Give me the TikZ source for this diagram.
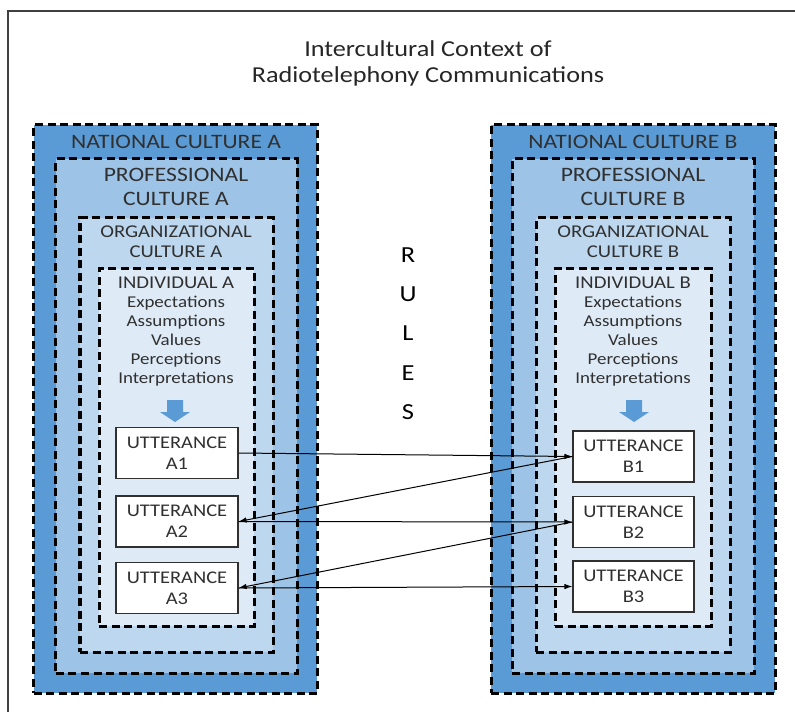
\documentclass[tikz,border=0pt]{standalone}
\usepackage{fontspec}
\setmainfont{Carlito}[FakeStretch=1.15]
\usetikzlibrary{arrows.meta}
\definecolor{natblue}{HTML}{5B9BD5}
\definecolor{profblue}{HTML}{9DC3E6}
\definecolor{orgblue}{HTML}{BDD7EE}
\definecolor{indblue}{HTML}{DEEBF7}
\definecolor{txt}{HTML}{303030}
\definecolor{frame}{HTML}{404040}
\tikzset{
  layer/.style={draw=black, line width=3bp, dash pattern=on 8bp off 4.5bp, inner sep=0pt, outer sep=0pt},
  natbox/.style={layer, fill=natblue},
  profbox/.style={layer, fill=profblue},
  orgbox/.style={layer, fill=orgblue},
  indbox/.style={layer, fill=indblue},
  utt/.style={draw=txt, line width=1.1bp, fill=white, minimum width=122bp, minimum height=51bp, inner sep=0pt, align=center, text=txt, font=\fontsize{17.8bp}{21bp}\selectfont},
  lbl/.style={align=center, text=txt, inner sep=0pt},
  conn/.style={line width=1bp, black, -{Latex[length=8bp,width=5.5bp]}},
  blockarrow/.style={fill=natblue, draw=none},
  ruleletter/.style={text=black, font=\fontsize{23bp}{23bp}\selectfont, inner sep=0pt}
}
\begin{document}
\begin{tikzpicture}[x=1bp,y=-1bp]
\useasboundingbox (0,0) rectangle (795,712);
% outer frame (cut at right and bottom)
\draw[frame, line width=1.6bp] (8,712) -- (8,11) -- (795,11);
% title
\node[lbl, text=black!85, font=\fontsize{22.8bp}{26bp}\selectfont] (title) at (428,63) {Intercultural Context of\\Radiotelephony Communications};

% side A
\node[natbox, minimum width=283bp, minimum height=568bp] (natA) at (175.5,409) {};
\node[profbox, minimum width=241bp, minimum height=514bp] (profA) at (176.5,416) {};
\node[orgbox, minimum width=193bp, minimum height=434bp] (orgA) at (176.5,435) {};
\node[indbox, minimum width=155bp, minimum height=357bp] (indA) at (176.5,447.5) {};
\node[lbl, font=\fontsize{20.5bp}{24bp}\selectfont] (natAl) at (176,142) {NATIONAL CULTURE A};
\node[lbl, font=\fontsize{20.5bp}{24bp}\selectfont] (profAl) at (176,187) {PROFESSIONAL\\CULTURE A};
\node[lbl, font=\fontsize{18bp}{20bp}\selectfont] (orgAl) at (176,242) {ORGANIZATIONAL\\CULTURE A};
\node[lbl, font=\fontsize{16.5bp}{19bp}\selectfont] (indAl) at (176,331.5) {{\fontsize{18bp}{19bp}\selectfont INDIVIDUAL A}\\Expectations\\Assumptions\\Values\\Perceptions\\Interpretations};
\fill[blockarrow] (167,400) -- (183,400) -- (183,412) -- (190,412) -- (175,422) -- (160,412) -- (167,412) -- cycle;
\node[utt] (A1) at (177,453) {UTTERANCE\\A1};
\node[utt] (A2) at (177,521.5) {UTTERANCE\\A2};
\node[utt] (A3) at (177,588) {UTTERANCE\\A3};

% side B
\node[natbox, minimum width=284bp, minimum height=568bp] (natB) at (633,409) {};
\node[profbox, minimum width=242bp, minimum height=514bp] (profB) at (633,416) {};
\node[orgbox, minimum width=194bp, minimum height=434bp] (orgB) at (633,435) {};
\node[indbox, minimum width=156bp, minimum height=357bp] (indB) at (633,447.5) {};
\node[lbl, font=\fontsize{20.5bp}{24bp}\selectfont] (natBl) at (633,142) {NATIONAL CULTURE B};
\node[lbl, font=\fontsize{20.5bp}{24bp}\selectfont] (profBl) at (633,187) {PROFESSIONAL\\CULTURE B};
\node[lbl, font=\fontsize{18bp}{20bp}\selectfont] (orgBl) at (633,242) {ORGANIZATIONAL\\CULTURE B};
\node[lbl, font=\fontsize{16.5bp}{19bp}\selectfont] (indBl) at (633,331.5) {{\fontsize{18bp}{19bp}\selectfont INDIVIDUAL B}\\Expectations\\Assumptions\\Values\\Perceptions\\Interpretations};
\fill[blockarrow] (626,400) -- (642,400) -- (642,412) -- (649,412) -- (634,422) -- (619,412) -- (626,412) -- cycle;
\node[utt, minimum width=121bp] (B1) at (633.5,456.5) {UTTERANCE\\B1};
\node[utt, minimum width=121bp] (B2) at (633.5,522) {UTTERANCE\\B2};
\node[utt, minimum width=121bp] (B3) at (633.5,586.5) {UTTERANCE\\B3};

% rules
\node[ruleletter] (R1) at (408,255) {R};
\node[ruleletter] (R2) at (408,294) {U};
\node[ruleletter] (R3) at (408,333) {L};
\node[ruleletter] (R4) at (408,373) {E};
\node[ruleletter] (R5) at (408,412) {S};

% connectors
\draw[conn] (A1.east) -- (B1.west);
\draw[conn] (B1.west) -- (A2.east);
\draw[conn] (A2.east) -- (B2.west);
\draw[conn] (B2.west) -- (A3.east);
\draw[conn] (A3.east) -- (B3.west);
\end{tikzpicture}
\end{document}
